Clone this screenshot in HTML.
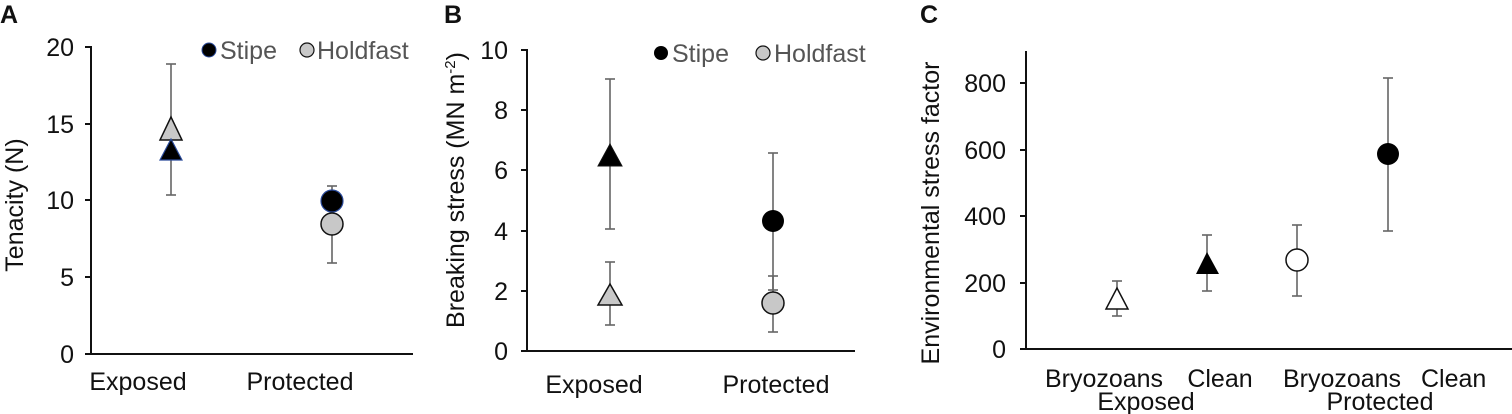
<!DOCTYPE html>
<html><head><meta charset="utf-8"><style>
html,body{margin:0;padding:0;background:#fff;}
svg{display:block;font-family:"Liberation Sans",Arial,sans-serif;}
</style></head><body>
<svg width="1512" height="414" viewBox="0 0 1512 414" xmlns="http://www.w3.org/2000/svg">
<g font-size="25" fill="#111">
<text x="0" y="23" font-weight="bold" font-size="25">A</text>
<text x="444" y="23" font-weight="bold" font-size="25">B</text>
<text x="920" y="23" font-weight="bold" font-size="25">C</text>

<!-- ===== Panel A ===== -->
<g stroke="#111" stroke-width="2" fill="none">
<line x1="91" y1="46" x2="91" y2="355"/>
<line x1="85" y1="354" x2="413" y2="354"/>
<line x1="85" y1="47" x2="91" y2="47"/><line x1="85" y1="124" x2="91" y2="124"/>
<line x1="85" y1="200" x2="91" y2="200"/><line x1="85" y1="277" x2="91" y2="277"/>
</g>
<g text-anchor="end">
<text x="74" y="56">20</text><text x="74" y="133">15</text><text x="74" y="209">10</text>
<text x="74" y="286">5</text><text x="74" y="363">0</text>
</g>
<text transform="translate(23,205) rotate(-90)" text-anchor="middle">Tenacity (N)</text>
<text x="138" y="390" text-anchor="middle">Exposed</text>
<text x="300" y="390" text-anchor="middle">Protected</text>
<g stroke="#666" stroke-width="1.6">
<line x1="171" y1="64" x2="171" y2="195"/><line x1="166" y1="64" x2="176" y2="64"/><line x1="166" y1="195" x2="176" y2="195"/>
<line x1="332" y1="186" x2="332" y2="263"/><line x1="327" y1="186" x2="337" y2="186"/><line x1="327" y1="263" x2="337" y2="263"/>
</g>
<polygon points="171,117 160,140 182,140" fill="#c8c8c8" stroke="#111" stroke-width="1.5"/>
<polygon points="171,139 160,160 182,160" fill="#000" stroke="#2a4a9a" stroke-width="1.2"/>
<circle cx="332" cy="201" r="11" fill="#000" stroke="#2a4a9a" stroke-width="1.2"/>
<circle cx="332" cy="224" r="11" fill="#c8c8c8" stroke="#111" stroke-width="1.5"/>
<circle cx="209" cy="50" r="7" fill="#000" stroke="#2a4a9a" stroke-width="1"/>
<text x="220" y="59" fill="#555">Stipe</text>
<circle cx="307" cy="50" r="7" fill="#c8c8c8" stroke="#111" stroke-width="1.2"/>
<text x="317" y="59" fill="#555">Holdfast</text>

<!-- ===== Panel B ===== -->
<g stroke="#111" stroke-width="2" fill="none">
<line x1="527" y1="49" x2="527" y2="352"/>
<line x1="521" y1="351" x2="855" y2="351"/>
<line x1="521" y1="50" x2="527" y2="50"/><line x1="521" y1="110" x2="527" y2="110"/>
<line x1="521" y1="170" x2="527" y2="170"/><line x1="521" y1="231" x2="527" y2="231"/>
<line x1="521" y1="291" x2="527" y2="291"/>
</g>
<g text-anchor="end">
<text x="508" y="59">10</text><text x="508" y="119">8</text><text x="508" y="179">6</text>
<text x="508" y="240">4</text><text x="508" y="300">2</text><text x="508" y="360">0</text>
</g>
<text transform="translate(464,190) rotate(-90)" text-anchor="middle">Breaking stress (MN m<tspan dy="-9" font-size="15">-2</tspan><tspan dy="9">)</tspan></text>
<text x="594" y="393" text-anchor="middle">Exposed</text>
<text x="776" y="393" text-anchor="middle">Protected</text>
<g stroke="#666" stroke-width="1.6">
<line x1="610" y1="79" x2="610" y2="229"/><line x1="605" y1="79" x2="615" y2="79"/><line x1="605" y1="229" x2="615" y2="229"/>
<line x1="610" y1="262" x2="610" y2="325"/><line x1="605" y1="262" x2="615" y2="262"/><line x1="605" y1="325" x2="615" y2="325"/>
<line x1="773" y1="153" x2="773" y2="290"/><line x1="768" y1="153" x2="778" y2="153"/><line x1="768" y1="290" x2="778" y2="290"/>
<line x1="773" y1="276" x2="773" y2="332"/><line x1="768" y1="276" x2="778" y2="276"/><line x1="768" y1="332" x2="778" y2="332"/>
</g>
<polygon points="610,144 598,166 622,166" fill="#000" stroke="#111" stroke-width="1"/>
<polygon points="610,284 598,305 622,305" fill="#c8c8c8" stroke="#111" stroke-width="1.5"/>
<circle cx="773" cy="221" r="11" fill="#000"/>
<circle cx="773" cy="303" r="11" fill="#c8c8c8" stroke="#111" stroke-width="1.5"/>
<circle cx="661" cy="53" r="7" fill="#000"/>
<text x="672" y="62" fill="#555">Stipe</text>
<circle cx="763" cy="53" r="7" fill="#c8c8c8" stroke="#111" stroke-width="1.2"/>
<text x="774" y="62" fill="#555">Holdfast</text>

<!-- ===== Panel C ===== -->
<g stroke="#111" stroke-width="2" fill="none">
<line x1="1026" y1="51" x2="1026" y2="350"/>
<line x1="1020" y1="349" x2="1512" y2="349"/>
<line x1="1020" y1="83" x2="1026" y2="83"/><line x1="1020" y1="150" x2="1026" y2="150"/>
<line x1="1020" y1="216" x2="1026" y2="216"/><line x1="1020" y1="283" x2="1026" y2="283"/>
</g>
<g text-anchor="end">
<text x="1006" y="92">800</text><text x="1006" y="159">600</text><text x="1006" y="225">400</text>
<text x="1006" y="292">200</text><text x="1006" y="358">0</text>
</g>
<text transform="translate(939,213) rotate(-90)" text-anchor="middle">Environmental stress factor</text>
<text x="1104" y="387" text-anchor="middle">Bryozoans</text>
<text x="1220" y="387" text-anchor="middle">Clean</text>
<text x="1342" y="387" text-anchor="middle">Bryozoans</text>
<text x="1421" y="387">Clean</text>
<text x="1146" y="410" text-anchor="middle">Exposed</text>
<text x="1380" y="410" text-anchor="middle">Protected</text>
<g stroke="#666" stroke-width="1.6">
<line x1="1117" y1="281" x2="1117" y2="316"/><line x1="1112" y1="281" x2="1122" y2="281"/><line x1="1112" y1="316" x2="1122" y2="316"/>
<line x1="1207" y1="235" x2="1207" y2="291"/><line x1="1202" y1="235" x2="1212" y2="235"/><line x1="1202" y1="291" x2="1212" y2="291"/>
<line x1="1297" y1="225" x2="1297" y2="296"/><line x1="1292" y1="225" x2="1302" y2="225"/><line x1="1292" y1="296" x2="1302" y2="296"/>
<line x1="1388" y1="78" x2="1388" y2="231"/><line x1="1383" y1="78" x2="1393" y2="78"/><line x1="1383" y1="231" x2="1393" y2="231"/>
</g>
<polygon points="1117,288 1106,309 1128,309" fill="#fff" stroke="#111" stroke-width="1.5"/>
<polygon points="1207,252 1196,274 1219,274" fill="#000"/>
<circle cx="1297" cy="260" r="11" fill="#fff" stroke="#111" stroke-width="1.5"/>
<circle cx="1388" cy="154" r="11" fill="#000"/>
</g>
</svg>
</body></html>
